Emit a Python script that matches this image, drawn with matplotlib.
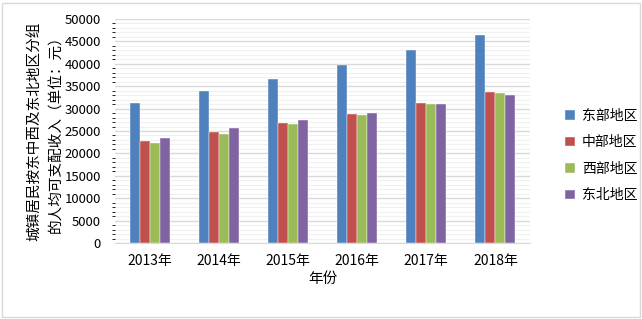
import matplotlib
matplotlib.use("Agg")
import matplotlib.pyplot as plt
import numpy as np
from matplotlib.ticker import MultipleLocator
from matplotlib.patches import Rectangle

plt.rcParams['font.family'] = ['Noto Sans CJK SC', 'DejaVu Sans']

years = ['2013年', '2014年', '2015年', '2016年', '2017年', '2018年']
regions = ['东部地区', '中部地区', '西部地区', '东北地区']
east = [31152, 33905, 36691, 39651, 42990, 46433]
central = [22664, 24733, 26810, 28879, 31294, 33803]
west = [22363, 24391, 26473, 28610, 30987, 33389]
northeast = [23507, 25579, 27400, 29045, 30960, 32994]
colors = ['#4F81BD', '#C0504D', '#9BBB59', '#8064A2']

fig = plt.figure(figsize=(6.42, 3.19), dpi=100)
ax = fig.add_axes([115/642, 1 - 243/319, 415/642, 224/319])

x = np.arange(len(years))
w = 0.145
for i, (vals, c, name) in enumerate(zip([east, central, west, northeast], colors, regions)):
    ax.bar(x + (i - 1.5) * w, vals, w, color=c, label=name, zorder=3,
           edgecolor='white', linewidth=0.3)

ax.set_xlim(-0.5, len(years) - 0.5)
ax.set_ylim(0, 50000)
ax.yaxis.set_major_locator(MultipleLocator(5000))
ax.yaxis.set_minor_locator(MultipleLocator(1000))
ax.grid(axis='y', which='major', color='#D9D9D9', linewidth=1.0, zorder=0)
ax.grid(axis='y', which='minor', color='#F0F0F0', linewidth=0.8, zorder=0)
ax.set_xticks(x)
ax.set_xticklabels(years, fontsize=10)
ax.tick_params(axis='both', length=0)
ax.tick_params(axis='x', pad=8, labelsize=10)
ax.tick_params(axis='y', pad=10, labelsize=9.5)
for s in ['top', 'right', 'left']:
    ax.spines[s].set_visible(False)
ax.spines['bottom'].set_color('#D9D9D9')

ax.set_xlabel('年份', fontsize=10.5, labelpad=3)
ax.set_ylabel('城镇居民按东中西及东北地区分组\n的人均可支配收入（单位：元）', fontsize=10.5,
              labelpad=1, linespacing=1.75)

ax.legend(loc='center left', bbox_to_anchor=(1.055, 0.39), frameon=False,
          fontsize=10, handlelength=0.7, handleheight=0.7, labelspacing=0.9,
          handletextpad=0.5)

fig.patches.append(Rectangle((2/642, 2/319), 638/642, 314/319, transform=fig.transFigure,
                             fill=False, edgecolor='#D9D9D9', linewidth=1))

fig.savefig('out.png', dpi=100)
